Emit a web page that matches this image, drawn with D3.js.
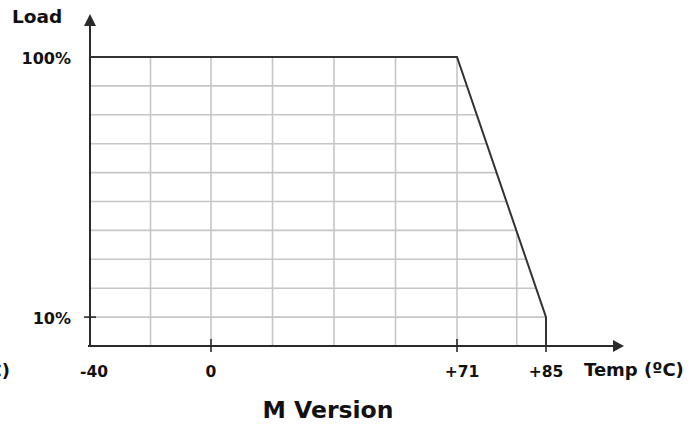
<!DOCTYPE html>
<html>
<head>
<meta charset="utf-8">
<script src="https://cdn.jsdelivr.net/npm/d3@7"></script>
<style>
  html, body { margin: 0; padding: 0; background: #fff; }
  text { font-family: "DejaVu Sans", sans-serif; font-weight: bold; fill: #111; }
</style>
</head>
<body>
<svg id="chart" width="700" height="424"></svg>
<script>
// derating curve (M Version): temperature in degC, load in %
var curveTemps = [-40, 71, 85, 85];
var curveLoads = [100, 100, 10, 0];

// the original drawing is schematic: temperature axis is stretched piecewise
var scaleTemps = [-40, 0, 71, 85];
var tickTemps = [-40, 0, 71, 85];
var tickLabels = ["-40", "0", "+71", "+85"];
var markedTemps = [0, 71, 85];

var loadTicks = [100, 10];
var loadLabels = ["100%", "10%"];
var gridLoads = [10, 20, 30, 40, 50, 60, 70, 80, 90];
var gridTemps = [-20, 0, 17.75, 35.5, 53.25, 71, 80.4];

var svg = d3.select("#chart");

var x = d3.scaleLinear().domain(scaleTemps).range([90, 211, 457, 546]);
var y = d3.scaleLinear().domain([0, 100]).range([346, 57]);

var points = curveTemps.map(function(t, i) { return [t, curveLoads[i]]; });

// clip the grid to the area under the curve
var area = d3.area()
  .x(function(d) { return x(d[0]); })
  .y0(y(0))
  .y1(function(d) { return y(d[1]); });

svg.append("clipPath").attr("id", "under")
  .append("path")
  .attr("d", area(points.slice(0, 3)));

var grid = svg.append("g").attr("clip-path", "url(#under)")
  .attr("stroke", "#c6c6c6").attr("stroke-width", 1.6);

grid.selectAll("line.h").data(gridLoads).enter().append("line")
  .attr("class", "h")
  .attr("x1", x(-40)).attr("x2", x(85))
  .attr("y1", function(d) { return y(d); })
  .attr("y2", function(d) { return y(d); });

grid.selectAll("line.v").data(gridTemps).enter().append("line")
  .attr("class", "v")
  .attr("x1", function(d) { return x(d); })
  .attr("x2", function(d) { return x(d); })
  .attr("y1", y(0)).attr("y2", y(100));

// axes with arrows
var axisColor = "#2a2a2a";
svg.append("line")
  .attr("x1", 88).attr("x2", 614)
  .attr("y1", y(0)).attr("y2", y(0))
  .attr("stroke", axisColor).attr("stroke-width", 2);
svg.append("path")
  .attr("d", "M613," + (y(0) - 6) + "L624," + y(0) + "L613," + (y(0) + 6) + "Z")
  .attr("fill", axisColor);

svg.append("line")
  .attr("x1", x(-40)).attr("x2", x(-40))
  .attr("y1", y(0) + 1).attr("y2", 25)
  .attr("stroke", axisColor).attr("stroke-width", 2);
svg.append("path")
  .attr("d", "M" + (x(-40) - 6) + ",26L" + x(-40) + ",14L" + (x(-40) + 6) + ",26Z")
  .attr("fill", axisColor);

// tick marks
svg.selectAll("line.xt").data(markedTemps).enter().append("line")
  .attr("x1", function(d) { return x(d); })
  .attr("x2", function(d) { return x(d); })
  .attr("y1", y(0) - 7).attr("y2", y(0) + 6)
  .attr("stroke", axisColor).attr("stroke-width", 1.6);

svg.append("line")
  .attr("x1", x(-40) - 6).attr("x2", x(-40) + 6)
  .attr("y1", y(10)).attr("y2", y(10))
  .attr("stroke", axisColor).attr("stroke-width", 1.6);

// the curve
var line = d3.line()
  .x(function(d) { return x(d[0]); })
  .y(function(d) { return y(d[1]); });

svg.append("path")
  .attr("d", line(points))
  .attr("fill", "none")
  .attr("stroke", "#333")
  .attr("stroke-width", 2)
  .attr("stroke-linejoin", "miter");

// labels
svg.selectAll("text.xl").data(tickTemps).enter().append("text")
  .attr("x", function(d) { return x(d) + (d === -40 ? 4 : d === 71 ? 5 : 0); })
  .attr("y", 377)
  .attr("text-anchor", "middle")
  .attr("font-size", 15.5)
  .text(function(d, i) { return tickLabels[i]; });

svg.selectAll("text.yl").data(loadTicks).enter().append("text")
  .attr("x", 71)
  .attr("y", function(d) { return y(d) + 7; })
  .attr("text-anchor", "end")
  .attr("font-size", 16)
  .text(function(d, i) { return loadLabels[i]; });

svg.append("text").attr("x", 12).attr("y", 23)
  .attr("font-size", 18.5).text("Load");

svg.append("text").attr("x", 584).attr("y", 376)
  .attr("font-size", 18).text("Temp (ºC)");

// leftover label from the neighbouring drawing, cut by the frame
svg.append("text").attr("x", 10).attr("y", 377)
  .attr("text-anchor", "end")
  .attr("font-size", 18).text("Temp (ºC)");

svg.append("text").attr("x", 328).attr("y", 418)
  .attr("text-anchor", "middle")
  .attr("font-size", 23.5).text("M Version");
</script>
</body>
</html>
